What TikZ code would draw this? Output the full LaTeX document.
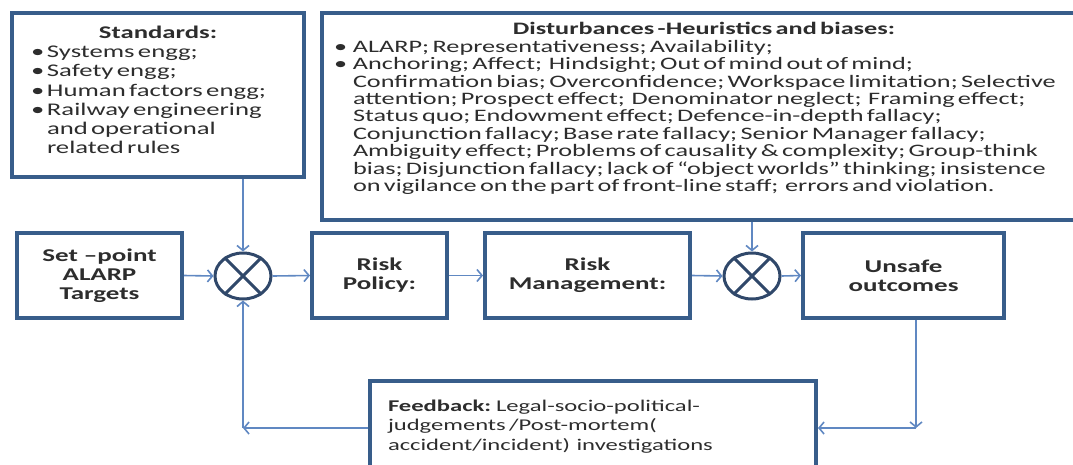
\documentclass[tikz,border=0pt]{standalone}
\usepackage{fontspec}
\setmainfont{Carlito}[FakeStretch=1.5]
\usetikzlibrary{shapes.geometric,arrows.meta}
\definecolor{boxc}{RGB}{56,93,138}
\definecolor{linec}{RGB}{96,136,194}
\definecolor{txtc}{RGB}{45,45,45}
\definecolor{circc}{RGB}{48,72,106}
\newcommand\bitem[2][17pt]{\par\hangindent=#1\hangafter=1\noindent\makebox[#1][l]{\textbullet}#2\par}
\begin{document}
\begin{tikzpicture}[x=1pt,y=-1pt,
  box/.style={draw=boxc, line width=4pt, fill=white, rectangle, inner sep=0pt, text=txtc},
  lbl/.style={font=\bfseries\fontsize{18}{19}\selectfont, align=center},
  sumnode/.style={draw=circc, line width=3pt, ellipse, minimum width=56pt, minimum height=46pt, inner sep=0pt},
  arr/.style={draw=linec, line width=1.6pt, -{Straight Barb[length=5pt,width=12pt,line width=1.6pt]}},
  crossline/.style={draw=circc, line width=3pt}]
\useasboundingbox (0,0) rectangle (1073,464);

% Standards
\node[box, minimum width=292pt, minimum height=164pt, text width=254pt] (std) at (158,95)
 {\fontsize{17.8}{19.2}\selectfont\raggedright
  \centerline{\bfseries Standards:}
  \bitem[16pt]{Systems engg;}
  \bitem[16pt]{Safety engg;}
  \bitem[16pt]{Human factors engg;}
  \bitem[16pt]{Railway engineering\newline and operational\newline related rules}
  \vspace*{10pt}};

% Disturbances
\node[box, minimum width=756pt, minimum height=207pt, text width=740pt] (dist) at (700,116.5)
 {\fontsize{17.5}{17.4}\selectfont\raggedright\leftskip=4pt
  \centerline{\bfseries Disturbances -Heuristics and biases:}
  \bitem[19pt]{ALARP; Representativeness; Availability;}
  \bitem[19pt]{Anchoring; Affect;\ \ Hindsight; Out of mind out of mind;\newline
  Confirmation bias; Overconfidence; Workspace limitation; Selective\newline
  attention; Prospect effect;\ \ Denominator neglect;\ \ Framing effect;\newline
  Status quo; Endowment effect; Defence-in-depth fallacy;\newline
  Conjunction fallacy; Base rate fallacy; Senior Manager fallacy;\newline
  Ambiguity effect; Problems of causality \& complexity; Group-think\newline
  bias; Disjunction fallacy; lack of “object worlds” thinking; insistence\newline
  on vigilance on the part of front-line staff;\ \ errors and violation.}
  \vspace*{16pt}};

% Main row
\node[box, lbl, minimum width=165pt, minimum height=85pt] (sp) at (99.5,275.5) {Set –point\\ALARP\\Targets};
\node[sumnode] (c1) at (243,276) {};
\node[box, lbl, minimum width=135pt, minimum height=85pt] (rp) at (379.5,275.5) {Risk\\Policy:};
\node[box, lbl, minimum width=205pt, minimum height=85pt] (rm) at (587.5,275.5) {Risk\\Management:};
\node[sumnode] (c2) at (752,276) {};
\node[box, lbl, minimum width=201pt, minimum height=85pt] (uo) at (903.5,275.5) {Unsafe\\outcomes};

% Feedback
\node[box, minimum width=446pt, minimum height=91pt, text width=410pt] (fb) at (593,426.5)
 {\fontsize{16.4}{19.5}\selectfont\raggedright
  \textbf{Feedback:} Legal-socio-political-\newline judgements /Post-mortem(\newline accident/incident)\ \ investigations\par};

% crosses
\draw[crossline] (c1.45) -- (c1.225) (c1.135) -- (c1.-45);
\draw[crossline] (c2.45) -- (c2.225) (c2.135) -- (c2.-45);

% connectors
\coordinate (rcorner) at (916,428);
\coordinate (lcorner) at (243,428);
\draw[arr] (std.south -| c1) -- (c1.north);
\draw[arr] (dist.south -| c2) -- (c2.north);
\draw[arr] (sp.east) -- (c1.west);
\draw[arr] (c1.east) -- (rp.west);
\draw[arr] (rp.east) -- (rm.west);
\draw[arr] (rm.east) -- (c2.west);
\draw[arr] (c2.east) -- (uo.west);
\draw[arr] (rcorner |- uo.south) -- (rcorner);
\draw[arr] (rcorner) -- (rcorner -| fb.east);
\draw[arr] (lcorner -| fb.west) -- (lcorner);
\draw[arr] (lcorner) -- (c1.south);
\end{tikzpicture}
\end{document}
